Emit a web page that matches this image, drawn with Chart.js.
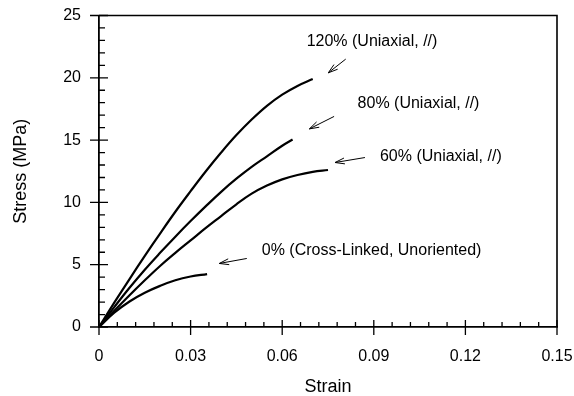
<!DOCTYPE html>
<html>
<head>
<meta charset="utf-8">
<script src="https://cdn.jsdelivr.net/npm/chart.js@4.4.1/dist/chart.umd.min.js"></script>
<style>
  html, body { margin: 0; padding: 0; background: #fff; }
  #wrap { width: 574px; height: 396px; }
</style>
</head>
<body>
<div id="wrap"><canvas id="chart" width="574" height="396"></canvas></div>
<script>
// stress-strain curves
const strain120 = [0, 0.005, 0.01, 0.015, 0.02, 0.025, 0.03, 0.035, 0.04, 0.045, 0.05, 0.055, 0.06, 0.065, 0.070];
const stress120 = [0, 1.95, 3.85, 5.7, 7.5, 9.25, 10.9, 12.5, 14.0, 15.4, 16.65, 17.75, 18.65, 19.35, 19.9];

const strain80 = [0, 0.005, 0.01, 0.015, 0.02, 0.025, 0.03, 0.035, 0.04, 0.045, 0.05, 0.055, 0.06, 0.0634];
const stress80 = [0, 1.6, 3.15, 4.6, 5.95, 7.25, 8.5, 9.7, 10.85, 11.9, 12.85, 13.7, 14.55, 15.05];

const strain60 = [0, 0.005, 0.01, 0.015, 0.02, 0.025, 0.03, 0.035, 0.04, 0.045, 0.05, 0.055, 0.06, 0.065, 0.07, 0.075];
const stress60 = [0, 1.3, 2.55, 3.75, 4.9, 5.95, 6.95, 7.95, 8.9, 9.85, 10.7, 11.35, 11.85, 12.2, 12.45, 12.6];

const strain0 = [0, 0.005, 0.01, 0.015, 0.02, 0.025, 0.03, 0.0354];
const stress0 = [0, 1.15, 2.05, 2.75, 3.3, 3.75, 4.05, 4.25];

const xTicks = [0, 0.03, 0.06, 0.09, 0.12, 0.15];
const yTicks = [0, 5, 10, 15, 20, 25];

const seriesLabels = [
  '120% (Uniaxial, //)',
  '80% (Uniaxial, //)',
  '60% (Uniaxial, //)',
  '0% (Cross-Linked, Unoriented)'
];

// label anchor (data units) and arrow from -> to
const notes = [
  { text: seriesLabels[0], at: [0.068, 22.9], from: [0.0808, 21.5], to: [0.0751, 20.4] },
  { text: seriesLabels[1], at: [0.0847, 17.9], from: [0.0770, 16.9], to: [0.0689, 15.9] },
  { text: seriesLabels[2], at: [0.092, 13.65], from: [0.0871, 13.6], to: [0.0773, 13.2] },
  { text: seriesLabels[3], at: [0.0533, 6.17], from: [0.0484, 5.5], to: [0.0394, 5.1] },
];

const FONT = "'Liberation Sans', Arial, Helvetica, sans-serif";
Chart.defaults.font.family = FONT;
Chart.defaults.color = '#000';

const pts = (xs, ys) => xs.map((x, i) => ({ x, y: ys[i] }));

const lineStyle = {
  borderColor: '#000',
  borderWidth: 2.2,
  pointRadius: 0,
  fill: false,
  tension: 0.4,
};

// frame, tick marks and arrow notes
const decorPlugin = {
  id: 'decor',
  afterDraw(chart) {
    const { ctx, chartArea: a, scales: { x, y } } = chart;
    ctx.save();
    ctx.strokeStyle = '#000';
    ctx.lineWidth = 1.6;
    ctx.beginPath();
    ctx.moveTo(a.left, a.top);
    ctx.lineTo(a.right, a.top);
    ctx.lineTo(a.right, a.bottom);
    ctx.stroke();

    ctx.lineWidth = 1.3;
    ctx.beginPath();
    // x minor every 0.006, major on xTicks
    for (let i = 0; i <= 25; i++) {
      const px = x.getPixelForValue(i * 0.006);
      if (i % 5 === 0) {
        ctx.moveTo(px, a.bottom - 7);
        ctx.lineTo(px, a.bottom + 8);
      } else {
        ctx.moveTo(px, a.bottom - 5);
        ctx.lineTo(px, a.bottom);
      }
    }
    // y minor every 1, major on yTicks
    for (let v = 0; v <= 25; v++) {
      const py = y.getPixelForValue(v);
      if (v % 5 === 0) {
        ctx.moveTo(a.left - 9, py);
        ctx.lineTo(a.left + 9, py);
      } else {
        ctx.moveTo(a.left, py);
        ctx.lineTo(a.left + 6, py);
      }
    }
    ctx.stroke();

    ctx.font = '16px ' + FONT;
    ctx.fillStyle = '#000';
    ctx.textBaseline = 'middle';
    ctx.lineWidth = 1;
    notes.forEach(n => {
      ctx.fillText(n.text, x.getPixelForValue(n.at[0]), y.getPixelForValue(n.at[1]));
      const x1 = x.getPixelForValue(n.from[0]), y1 = y.getPixelForValue(n.from[1]);
      const x2 = x.getPixelForValue(n.to[0]), y2 = y.getPixelForValue(n.to[1]);
      const ang = Math.atan2(y2 - y1, x2 - x1);
      const len = 10, spread = 0.3;
      ctx.beginPath();
      ctx.moveTo(x1, y1);
      ctx.lineTo(x2, y2);
      ctx.moveTo(x2 - len * Math.cos(ang - spread), y2 - len * Math.sin(ang - spread));
      ctx.lineTo(x2, y2);
      ctx.lineTo(x2 - len * Math.cos(ang + spread), y2 - len * Math.sin(ang + spread));
      ctx.stroke();
    });
    ctx.restore();
  }
};

new Chart(document.getElementById('chart').getContext('2d'), {
  type: 'line',
  data: {
    datasets: [
      { label: seriesLabels[0], data: pts(strain120, stress120), ...lineStyle },
      { label: seriesLabels[1], data: pts(strain80, stress80), ...lineStyle },
      { label: seriesLabels[2], data: pts(strain60, stress60), ...lineStyle },
      { label: seriesLabels[3], data: pts(strain0, stress0), ...lineStyle },
    ]
  },
  options: {
    responsive: false,
    animation: false,
    layout: { padding: { top: 15.5, right: 17, left: 0, bottom: 0 } },
    plugins: { legend: { display: false }, tooltip: { enabled: false } },
    scales: {
      x: {
        type: 'linear',
        min: 0,
        max: 0.15,
        afterBuildTicks: s => { s.ticks = xTicks.map(v => ({ value: v })); },
        afterFit: s => { s.height = 69; s.paddingLeft = 0; s.paddingRight = 0; },
        grid: { display: false, drawTicks: false },
        border: { display: true, color: '#000', width: 1.8 },
        ticks: { padding: 20, maxRotation: 0, font: { size: 16 }, color: '#000', callback: v => String(v) },
        title: { display: true, text: 'Strain', font: { size: 18, lineHeight: 1 }, padding: 0, color: '#000' }
      },
      y: {
        type: 'linear',
        min: 0,
        max: 25,
        afterBuildTicks: s => { s.ticks = yTicks.map(v => ({ value: v })); },
        afterFit: s => { s.width = 99; s.paddingTop = 0; s.paddingBottom = 0; },
        grid: { display: false, drawTicks: false },
        border: { display: true, color: '#000', width: 1.8 },
        ticks: { padding: 18, font: { size: 16 }, color: '#000' },
        title: { display: true, text: 'Stress (MPa)', font: { size: 18, lineHeight: 1 }, padding: { top: 12, bottom: 0 }, color: '#000' }
      }
    }
  },
  plugins: [decorPlugin]
});
</script>
</body>
</html>
